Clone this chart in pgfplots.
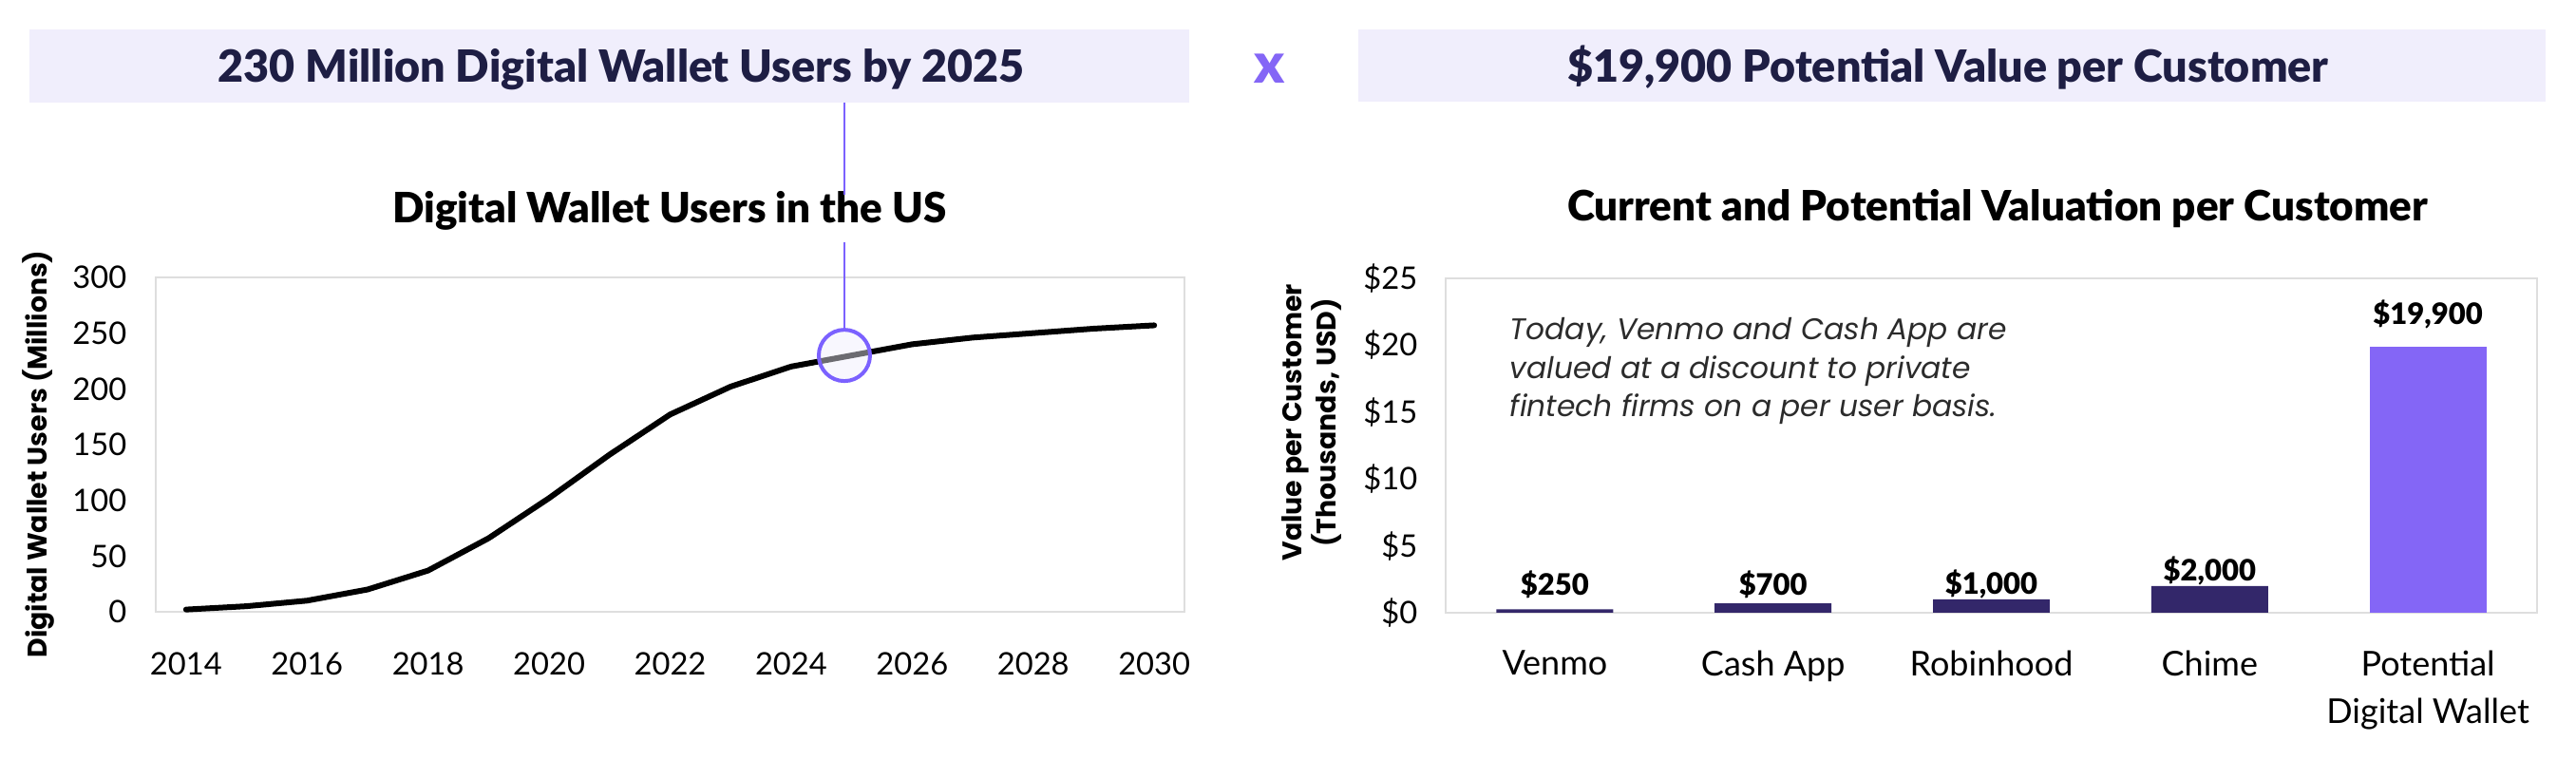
\documentclass[border=0pt]{standalone}
\usepackage{fontspec}
\setmainfont{Lato}
\newfontfamily\poppins{Poppins}
\newfontfamily\latoblack{Lato Black}
\usepackage{pgfplots}
\pgfplotsset{compat=1.18}

\definecolor{navy}{HTML}{1E1E44}
\definecolor{boxbg}{HTML}{F0EEFC}
\definecolor{purp}{HTML}{8466F6}
\definecolor{ring}{HTML}{7B61FF}
\definecolor{darkbar}{HTML}{33276A}
\definecolor{frame}{HTML}{DEDEDE}
\definecolor{note}{HTML}{2B2B2B}

\begin{document}
\begin{tikzpicture}
\path[use as bounding box] (0,0) rectangle (813.6pt,240pt);

% left: users
\begin{axis}[
  at={(49.2pt,46.8pt)}, anchor=south west,
  width=324.9pt, height=105.6pt, scale only axis,
  xmin=2013.5, xmax=2030.5, ymin=0, ymax=300,
  xtick={2014,2016,...,2030}, ytick={0,50,...,300},
  major tick length=0pt,
  axis line style={frame, line width=0.6pt},
  tick label style={font=\fontsize{9.8}{12}\selectfont, /pgf/number format/assume math mode=true},
  /pgf/number format/1000 sep={},
  xticklabel style={yshift=-9.3pt},
  yticklabel style={xshift=-5.7pt},
  clip=false
]
\addplot[black, line width=1.8pt, line cap=round, line join=round] coordinates {
  (2014,2) (2015,5) (2016,10) (2017,20) (2018,37) (2019,66) (2020,102)
  (2021,141) (2022,177) (2023,202) (2024,220) (2025,230) (2026,240)
  (2027,246) (2028,250) (2029,254) (2030,257)
};
\coordinate (hl) at (axis cs:2024.88,230);
\end{axis}

% right: value per customer
\begin{axis}[
  at={(456.6pt,46.5pt)}, anchor=south west,
  width=344.7pt, height=105.6pt, scale only axis,
  xmin=-0.5, xmax=4.5, ymin=0, ymax=25,
  xtick={0,...,4},
  xticklabels={Venmo, Cash App, Robinhood, Chime, {Potential\\Digital Wallet}},
  ytick={0,5,...,25}, yticklabels={\$0,\$5,\$10,\$15,\$20,\$25},
  major tick length=0pt,
  axis line style={frame, line width=0.6pt},
  tick label style={font=\fontsize{9.8}{12}\selectfont},
  xticklabel style={align=center, font=\fontsize{10.8}{15.2}\selectfont, yshift=-8.4pt},
  yticklabel style={xshift=-5.4pt},
  clip=false
]
\addplot[ybar, bar width=0.535, bar shift=0pt, fill=darkbar, draw=none]
  coordinates {(0,0.25) (1,0.7) (2,1.0) (3,2.0)};
\addplot[ybar, bar width=0.535, bar shift=0pt, fill=purp, draw=none]
  coordinates {(4,19.9)};
\addplot[draw=none, nodes near coords, point meta=explicit symbolic,
  every node near coord/.style={anchor=center, inner sep=0pt, text=black,
    font=\latoblack\fontsize{9.3}{11}\selectfont}]
  coordinates {(0,2.13) [\$250] (1,2.13) [\$700] (2,2.13) [\$1,000]
               (3,3.12) [\$2,000] (4,22.3) [\$19,900]};
\end{axis}

\begin{scope}[x=0.3pt, y=-0.3pt, yshift=240pt]
  % headline boxes
  \fill[boxbg] (31,31) rectangle (1252,108);
  \fill[boxbg] (1430,31) rectangle (2680,107);
  \node[anchor=base, inner sep=0pt, text=navy, font=\latoblack\fontsize{14}{16}\selectfont]
    at (654,87) {230 Million Digital Wallet Users by 2025};
  \node[anchor=base, inner sep=0pt, text=navy, font=\latoblack\fontsize{14}{16}\selectfont]
    at (2051,87) {\$19,900 Potential Value per Customer};
  \node[inner sep=0pt, text=purp, font=\latoblack\fontsize{17.7}{20}\selectfont]
    at (1337,72) {x};

  % chart titles
  \node[anchor=base, inner sep=0pt, font=\latoblack\fontsize{13.2}{15}\selectfont]
    at (705,235) {Digital Wallet Users in the US};
  \node[anchor=base, inner sep=0pt, font=\latoblack\fontsize{13.2}{15}\selectfont]
    at (2103,233) {Current and Potential Valuation per Customer};

  % axis titles
  \node[rotate=90, inner sep=0pt, font=\poppins\bfseries\fontsize{8.5}{10}\selectfont]
    at (40,478) {Digital Wallet Users (Millions)};
  \node[rotate=90, inner sep=0pt, align=center, font=\poppins\bfseries\fontsize{8.5}{11}\selectfont]
    at (1381,445) {Value per Customer\\(Thousands, USD)};

  % note
  \node[anchor=north west, inner sep=0pt, align=left, text=note,
    font=\poppins\itshape\fontsize{9.4}{12.15}\selectfont]
    at (1589,334) {Today, Venmo and Cash App are\\valued at a discount to private\\fintech firms on a per user basis.};

  % callout from headline to 2025
  \draw[ring, line width=0.6pt] (hl |- 0,108) -- (hl |- 0,205);
  \draw[ring, line width=0.6pt] (hl |- 0,255) -- ([yshift=8.1pt]hl);
\end{scope}
\filldraw[draw=ring, line width=1.2pt, fill=boxbg, fill opacity=0.45] (hl) circle (8.1pt);
\end{tikzpicture}
\end{document}
